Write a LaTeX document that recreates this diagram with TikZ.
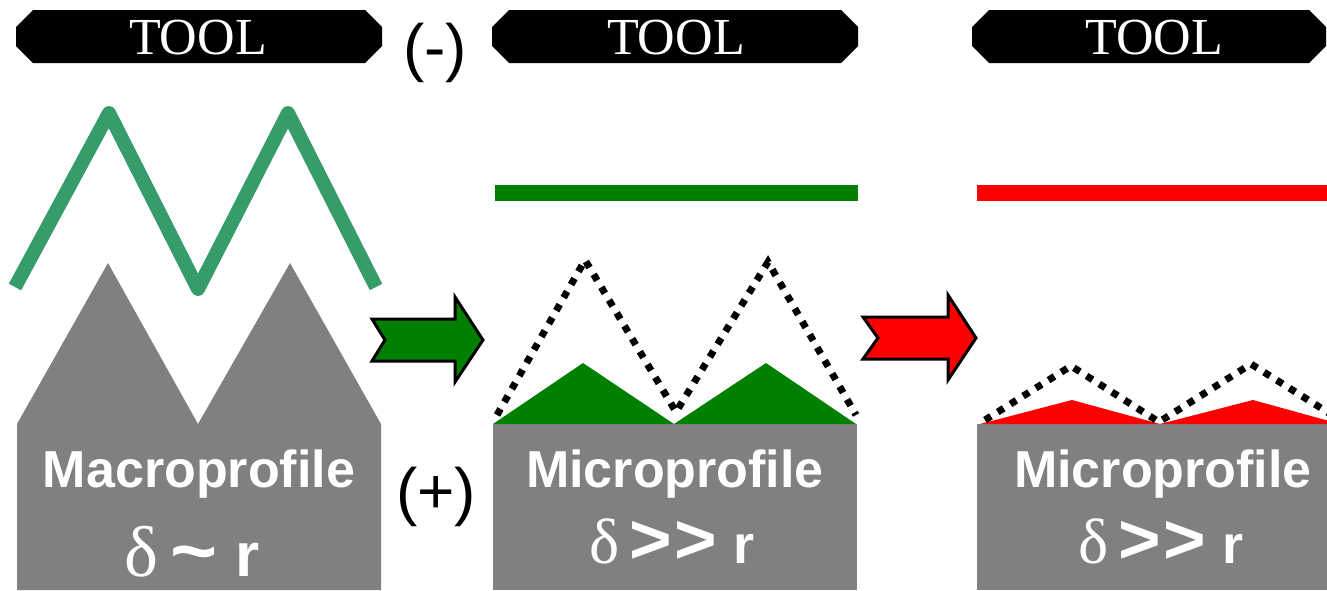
\documentclass[tikz,border=0pt]{standalone}
\usepackage{fontspec}
\setmainfont{Liberation Serif}
\setsansfont{Liberation Sans}
\definecolor{coating}{RGB}{54,157,106}
\definecolor{filmgreen}{RGB}{0,128,0}
\definecolor{profgray}{RGB}{128,128,128}
\tikzset{
  tool/.style = {fill=black},
  toollabel/.style = {text=white,inner sep=0pt,font=\fontsize{26}{26}\selectfont},
  sign/.style = {inner sep=0pt,font=\sffamily\fontsize{32}{32}\selectfont},
  surface/.style = {fill=profgray},
  proflabel/.style = {text=white,inner sep=0pt,anchor=base,
    font=\sffamily\bfseries\fontsize{26}{26}\selectfont},
  relation/.style = {proflabel,font=\sffamily\bfseries\fontsize{27}{27}\selectfont},
  envelope/.style = {line width=3.5pt,dash pattern=on 3.5pt off 4pt},
  stepper/.style = {draw=black,line width=1.5pt,line join=miter}
}
\newcommand{\grk}[2]{{\rmfamily\mdseries\fontsize{#1}{#1}\selectfont #2}}
\newcommand{\muchgt}{\scalebox{1.35}[1.3]{\textgreater\kern1pt\textgreater}}
\newcommand{\approxto}{\scalebox{1.3}[1.2]{\textasciitilde}}

\begin{document}
\begin{tikzpicture}[x=0.5pt,y=-0.5pt]
  \useasboundingbox (0,0) rectangle (1327,590);
  % tools
  \foreach \xl/\xr/\xt/\n in {16/382/198/1, 492/858/676/2, 972/1326/1154/3} {
    \fill[tool] (\xl+17,10) -- (\xr-17,10) -- (\xr,27) -- (\xr,46)
      -- (\xr-17,63) -- (\xl+17,63) -- (\xl,46) -- (\xl,27) -- cycle;
    \node[toollabel] (tool\n) at (\xt,38) {TOOL};
  }
  \node[sign] (minus) at (435,53) {(-)};
  \node[sign] (plus) at (436,497) {(+)};
  % macroprofile
  \draw[coating,line width=7pt,line join=round]
    (15,287) -- (109,113) -- (198,289) -- (288,113) -- (376,287);
  \fill[surface] (17,424) -- (108,263) -- (198,424) -- (290,263)
    -- (381,424) -- (381,590) -- (17,590) -- cycle;
  \node[proflabel] (macro) at (199,487) {Macroprofile};
  \node[relation,font=\sffamily\bfseries\fontsize{31}{31}\selectfont] (macrorel) at (192,576)
    {\grk{36}{δ}\kern6pt\approxto\kern9pt r};
  % arrows
  \draw[stepper,fill=filmgreen] (372,319) -- (455,319) -- (455,297) -- (483,340)
    -- (455,382) -- (455,361) -- (372,361) -- (385,340) -- cycle;
  \draw[stepper,fill=red] (863,317) -- (948,317) -- (948,295) -- (976,338)
    -- (948,380) -- (948,359) -- (863,359) -- (878,338) -- cycle;
  % microprofile, good
  \draw[filmgreen,line width=8pt] (495,193) -- (858,193);
  \fill[surface] (493,424) rectangle (857,590);
  \fill[filmgreen] (493,424) -- (583,363) -- (674,424) -- (766,363) -- (856,424) -- cycle;
  \draw[envelope] (497,415) -- (585,260) -- (676,412) -- (768,262) -- (856,415);
  \node[proflabel] (micro) at (675,487) {Microprofile};
  \node[relation] (microrel) at (672,563) {\grk{32}{δ}\kern5pt\muchgt\kern8pt r};
  % microprofile, bad
  \draw[red,line width=8pt] (977,193) -- (1340,193);
  \fill[surface] (977,424) rectangle (1340,590);
  \fill[red] (980,424) -- (1072,400) -- (1160,424) -- (1253,400) -- (1340,424) -- cycle;
  \draw[envelope] (985,420) -- (1071,366) -- (1159,422) -- (1251,364) -- (1340,420);
  \node[proflabel] (micro3) at (1163,487) {Microprofile};
  \node[relation] (microrel3) at (1161,563) {\grk{32}{δ}\kern5pt\muchgt\kern8pt r};
\end{tikzpicture}
\end{document}
